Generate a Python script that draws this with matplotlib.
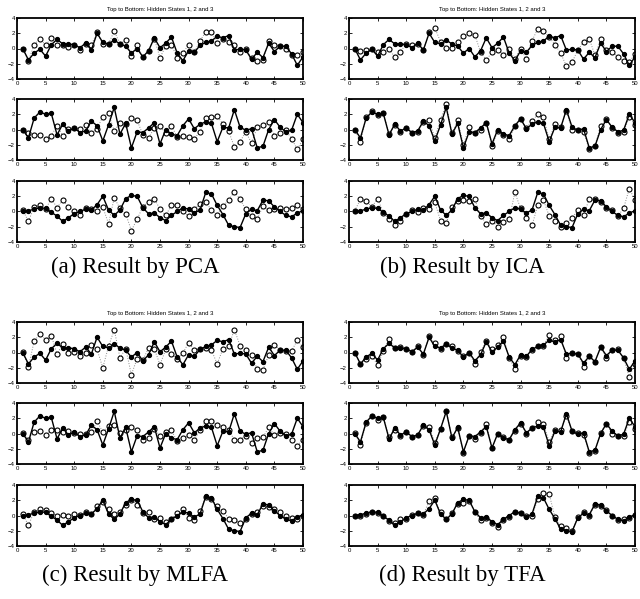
import numpy as np
import matplotlib.pyplot as plt

plt.rcParams['font.family'] = ['Liberation Sans', 'DejaVu Sans']

t = np.arange(1, 51)

# true hidden states (solid line, filled dots), same in every panel
truth_1 = [0.0, -1.5, -0.6, -0.1, -1.0, 0.5, 1.2, 0.6, 0.6, 0.5,
           0.1, 0.7, -0.2, 2.0, 0.8, 0.6, 1.1, 0.6, 0.3, -0.6,
           0.0, -1.1, -0.3, 1.4, 0.1, 0.7, 1.5, -0.6, -1.6, -0.3,
           -0.5, 0.4, 0.8, 1.0, 1.6, 1.4, 1.7, -0.2, -0.1, -0.2,
           -1.4, -0.5, -1.2, 0.7, -0.4, 0.3, 0.3, -0.7, -2.2, -1.1]
truth_2 = [0.0, -1.1, 1.5, 2.3, 2.0, 2.1, -0.7, 0.7, -0.2, 0.2,
           -0.4, -0.2, 1.1, 0.5, -1.5, 0.6, 2.9, -0.6, 0.8, -2.4,
           -0.3, -0.4, 0.2, 0.9, -1.9, 0.0, -0.6, -0.8, 0.5, 1.4,
           0.1, 0.7, 1.0, 0.8, -1.6, 0.3, 0.2, 2.6, 0.3, -0.1,
           0.1, -2.4, -2.2, 0.0, 1.3, 0.3, -0.3, -0.1, 2.0, 0.9]
truth_3 = [0.0, 0.1, 0.3, 0.5, 0.4, -0.1, -0.6, -1.3, -0.8, -0.3,
           0.0, 0.3, 0.2, 0.9, 2.0, 0.2, -0.5, 0.2, 1.7, 2.1,
           2.0, 0.5, -0.3, -0.2, -0.8, -1.2, -0.5, 0.0, 0.5, 0.3,
           -0.2, 0.2, 2.5, 2.3, 0.8, -0.4, -1.8, -2.0, -2.1, -0.3,
           0.3, 0.1, 1.5, 1.4, 0.6, 0.0, -0.5, -0.7, -0.2, 0.1]

# estimates (dotted line, open circles)
pca_1 = [0.0, -1.6, 0.5, 1.3, 0.4, 1.4, 0.4, 0.4, 0.2, 0.5,
         -0.2, 0.6, 0.5, 2.1, 0.6, 0.6, 2.3, 0.6, 1.1, -1.0,
         0.5, -1.1, -0.3, 1.3, -1.2, 0.3, 0.5, -1.2, -0.6, 0.5,
         -0.5, 1.0, 2.2, 2.2, 0.7, 1.2, 0.9, 0.5, -0.5, -0.1,
         -1.2, -1.6, -1.5, 1.0, 0.5, 0.3, -0.1, -0.9, -0.8, -0.4]
pca_2 = [-0.1, -0.5, -0.7, -0.7, -1.2, -0.8, 0.5, -0.8, 0.1, 0.2,
         0.1, 0.6, -0.5, 0.1, 1.7, 2.1, -0.2, 0.9, 0.7, 1.5,
         1.2, -0.7, -1.1, 0.2, 0.4, -0.5, 0.5, -1.0, -0.8, -1.0,
         -1.2, -0.3, 1.5, 1.6, 1.8, 0.7, -0.2, -2.3, -1.6, -0.3,
         -1.8, 0.3, 0.6, 1.0, -0.8, -0.4, -0.1, -1.2, -2.6, -1.3]
pca_3 = [0.2, -1.3, 0.6, 0.8, 0.3, 1.7, 0.5, 1.5, 0.6, 0.0,
         -0.5, 0.5, 0.3, 0.0, 0.6, -1.6, 1.8, 0.4, -0.3, -2.5,
         -1.0, 0.6, 1.3, 1.7, 0.3, -0.5, 0.8, 0.9, 0.0, -0.6,
         0.3, 1.0, 1.2, 0.2, -0.4, 0.7, 1.5, 2.6, 1.6, 0.3,
         -0.6, -1.0, 0.7, 0.2, 0.3, 0.5, 0.3, 0.4, 0.8, 0.3]

ica_1 = [0.0, -0.3, -0.2, -0.1, -0.4, -0.4, -0.1, -1.1, -0.4, 0.6,
         0.4, 0.6, -0.2, 2.1, 2.7, 0.9, 0.1, 0.1, 0.9, 1.6,
         2.0, 1.8, -0.5, -1.5, -0.5, -0.2, -0.8, -0.1, -1.4, 0.0,
         -1.4, 1.0, 2.6, 2.3, 1.5, 0.5, -0.6, -2.3, -1.8, -0.2,
         0.8, 1.3, -0.9, 1.2, -0.2, -0.4, -1.1, -1.6, -1.8, -0.7]
ica_2 = [0.0, -1.6, 1.6, 2.4, 1.9, 2.2, -0.6, 0.6, -0.3, 0.2,
         -0.5, -0.3, 1.0, 1.2, -1.1, 1.3, 3.3, -0.5, 1.2, -2.0,
         0.3, -0.5, -0.1, 0.9, -2.2, -0.2, -0.7, -1.2, 0.4, 1.4,
         0.2, 1.1, 2.0, 1.6, -1.3, 0.7, 0.3, 2.4, 0.0, -0.1,
         -0.3, -2.6, -2.1, 0.5, 1.4, 0.2, -0.4, -0.3, 1.6, 0.6]
ica_3 = [0.1, 1.6, 1.4, 0.6, 1.7, -0.2, -1.0, -1.8, -1.2, -0.3,
         0.2, -0.1, 0.5, 0.3, 1.2, -1.2, -1.5, 0.6, 1.4, 1.5,
         1.4, 1.6, -0.6, -1.6, -1.2, -2.0, -1.4, -1.0, 2.5, 0.4,
         -0.8, -1.8, 0.8, 1.5, -0.6, -1.2, -2.0, -1.5, -0.8, 0.2,
         -0.4, 1.6, 1.7, 1.3, 0.4, 0.2, -0.6, 0.4, 3.0, 1.5]

mlfa_1 = [0.1, -1.9, 1.5, 2.4, 1.7, 2.2, -0.2, 1.1, 0.0, 0.1,
          -0.5, -0.1, 1.0, 0.4, -2.0, 0.8, 3.0, -0.7, 0.5, -2.9,
          -0.8, -1.0, 0.6, 0.5, -1.6, 0.4, -0.2, -0.8, -0.1, 1.3,
          0.3, 0.5, 0.6, 0.3, -1.5, 0.5, 0.8, 3.0, 0.9, 0.3,
          -0.3, -2.2, -2.3, -0.3, 1.0, 0.3, 0.2, 0.2, 1.6, 0.7]
mlfa_2 = [0.1, -0.9, 0.2, 0.3, -0.2, 0.4, 0.4, 0.2, 0.3, 0.1,
          -0.1, -0.1, 0.2, 1.6, 0.2, 1.0, 1.1, 0.1, 0.5, 0.8,
          0.4, -0.8, -0.6, 0.6, -0.3, 0.2, 0.4, -1.0, -0.6, -0.2,
          -0.8, 0.4, 1.7, 1.6, 1.1, 0.9, 0.4, -0.8, -0.8, -0.3,
          -1.3, -0.6, -0.5, 0.8, -0.2, 0.1, 0.0, -0.9, -1.6, -0.8]
mlfa_3 = [0.2, -1.3, 0.5, 0.8, 0.7, 0.3, 0.0, 0.1, 0.0, 0.2,
          0.1, 0.4, 0.2, 1.2, 1.8, 0.8, 0.2, 0.5, 1.4, 2.0,
          1.4, 0.3, 0.5, -0.5, -0.3, -0.8, -0.4, 0.3, 0.8, -0.3,
          -0.6, 0.6, 2.4, 2.2, 1.2, 0.6, -0.4, -0.6, -1.0, -0.5,
          0.2, 0.5, 1.3, 1.1, 0.8, 0.4, 0.0, -0.3, -0.4, 0.0]

tfa_1 = [0.0, -1.5, -0.8, -0.4, -1.7, 0.2, 1.8, 0.6, 0.7, 0.5,
         0.1, 0.8, -0.3, 2.1, 1.2, 0.4, 1.1, 0.9, 0.2, -0.5,
         -0.1, -1.5, 0.1, 1.5, 0.4, 1.0, 2.0, -0.7, -2.2, -0.4,
         -0.6, 0.3, 0.8, 0.9, 2.3, 1.6, 2.2, -0.7, -0.1, -0.2,
         -1.9, -0.4, -1.2, 0.7, -0.7, 0.3, 0.4, -0.7, -3.2, -1.5]
tfa_2 = [0.1, -1.5, 1.4, 2.3, 1.8, 2.2, -0.5, 0.5, -0.3, 0.2,
         -0.5, -0.2, 1.0, 0.9, -1.2, 0.6, 3.0, -0.5, 0.7, -2.5,
         -0.3, -0.7, 0.1, 1.3, -1.9, 0.0, -0.5, -0.9, 0.3, 1.3,
         0.0, 0.7, 1.5, 1.3, -1.1, 0.5, 0.4, 2.3, 0.3, 0.1,
         -0.2, -2.5, -2.3, 0.1, 1.3, -0.1, -0.3, -0.3, 1.5, 0.6]
tfa_3 = [0.0, 0.0, 0.2, 0.4, 0.3, -0.1, -0.7, -1.0, -0.5, -0.4,
         0.1, 0.3, 0.1, 1.9, 2.3, 0.4, -0.4, 0.3, 1.5, 1.7,
         1.9, 0.4, -0.6, -0.3, -1.0, -1.5, -0.6, -0.2, 0.4, 0.3,
         -0.1, 0.0, 2.1, 3.0, 2.8, -0.2, -1.4, -1.7, -2.0, -0.2,
         0.5, 0.0, 1.4, 1.2, 0.7, -0.1, -0.6, -0.4, -0.3, 0.1]

truths = [truth_1, truth_2, truth_3]
panels = [
    ("(a) Result by PCA", [pca_1, pca_2, pca_3]),
    ("(b) Result by ICA", [ica_1, ica_2, ica_3]),
    ("(c) Result by MLFA", [mlfa_1, mlfa_2, mlfa_3]),
    ("(d) Result by TFA", [tfa_1, tfa_2, tfa_3]),
]

W, H = 640, 599
fig = plt.figure(figsize=(W / 100, H / 100), dpi=100)

# pixel layout of the four panels
lefts = [17, 349, 17, 349]
top_rows = [[18, 99, 181], [18, 99, 181], [322, 403, 485], [322, 403, 485]]
caption_x = [135, 462, 135, 462]
caption_y = [267, 267, 575, 575]
ax_w, ax_h = 286, 61

for p, (caption, ests) in enumerate(panels):
    for k in range(3):
        top = top_rows[p][k]
        ax = fig.add_axes([lefts[p] / W, 1 - (top + ax_h) / H, ax_w / W, ax_h / H])
        ax.plot(t, ests[k], ':', color='0.55', lw=0.7, zorder=1)
        ax.plot(t, ests[k], 'o', mfc='white', mec='black', ms=3.6, mew=0.8, zorder=2)
        ax.plot(t, truths[k], '-', color='black', lw=1.0, zorder=3)
        ax.plot(t, truths[k], 'o', color='black', ms=2.8, zorder=4)
        ax.set_xlim(0, 50)
        ax.set_ylim(-4, 4)
        ax.set_xticks(range(0, 51, 5))
        ax.set_yticks([-4, -2, 0, 2, 4])
        ax.tick_params(direction='in', top=True, right=True, length=2.5,
                       width=0.6, labelsize=4.3, pad=1.5)
        for s in ax.spines.values():
            s.set_linewidth(1.3)
        if k == 0:
            ax.set_title('Top to Bottom: Hidden States 1, 2 and 3', fontsize=4.3, pad=5)
    fig.text(caption_x[p] / W, 1 - caption_y[p] / H, caption, ha='center', va='center',
             fontsize=16.5, family='Liberation Serif')

fig.savefig('out.png', dpi=100)
